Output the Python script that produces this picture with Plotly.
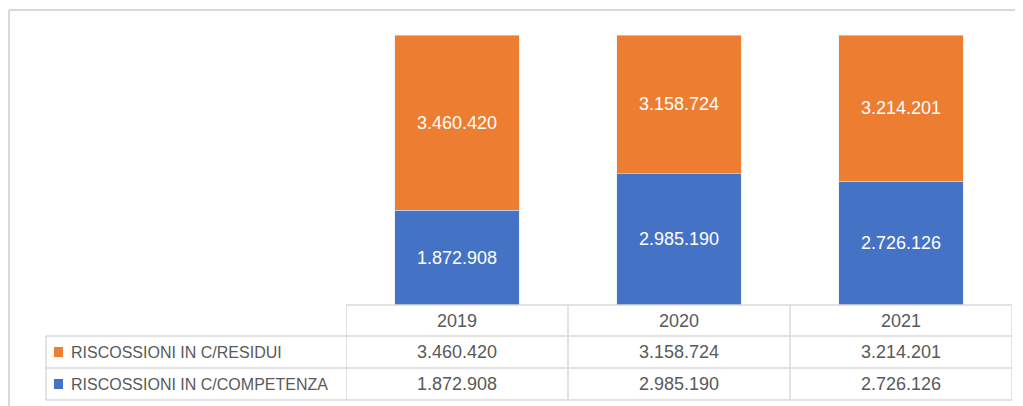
import plotly.graph_objects as go

# ---- data ----
years = ["2019", "2020", "2021"]
residui = [3460420, 3158724, 3214201]
competenza = [1872908, 2985190, 2726126]
series_names = ["RISCOSSIONI IN C/RESIDUI", "RISCOSSIONI IN C/COMPETENZA"]

ORANGE = "#ED7D31"
BLUE = "#4472C4"
GRID = "#D9D9D9"
TXT = "#595959"
FONT = "Liberation Sans"

OFF = 8  # page body margin
W, H = 1023 - OFF, 406 - OFF


def fmt(v):
    return f"{v:,}".replace(",", ".")


def py(p):
    """reference pixel y (from top of window) -> paper y"""
    return 1 - (p - OFF) / H


def px(p):
    return (p - OFF) / W


fig = go.Figure()
fig.add_trace(go.Bar(
    x=years, y=competenza, name=series_names[1], marker_color=BLUE,
    text=[fmt(v) for v in competenza], textposition="inside",
    insidetextanchor="middle", textangle=0,
    textfont=dict(color="white", size=18, family=FONT),
    hoverinfo="skip",
))
fig.add_trace(go.Bar(
    x=years, y=residui, name=series_names[0], marker_color=ORANGE,
    text=[fmt(v) for v in residui], textposition="inside",
    insidetextanchor="middle", textangle=0,
    textfont=dict(color="white", size=18, family=FONT),
    hoverinfo="skip",
))

top_px, bot_px = 35, 305
row_px = [305, 336, 368, 400]
left_tab = 46
right_tab = 1012

shapes = []
line = dict(color=GRID, width=1.5)
# outer chart border (top & left)
shapes.append(dict(type="line", xref="paper", yref="paper", x0=px(9), x1=1, y0=py(10), y1=py(10), line=dict(color=GRID, width=2)))
shapes.append(dict(type="line", xref="paper", yref="paper", x0=px(9), x1=px(9), y0=py(10), y1=0, line=dict(color=GRID, width=2)))
# table horizontal lines
n = len(years)
shapes.append(dict(type="line", xref="x", yref="paper", x0=-0.5, x1=n - 0.5, y0=py(row_px[0]), y1=py(row_px[0]), line=line))
for r in row_px[1:]:
    shapes.append(dict(type="line", xref="paper", yref="paper", x0=px(left_tab), x1=px(right_tab), y0=py(r), y1=py(r), line=line))
# table vertical lines
for i in range(n + 1):
    shapes.append(dict(type="line", xref="x", yref="paper", x0=i - 0.5, x1=i - 0.5, y0=py(row_px[0]), y1=py(row_px[-1]), line=line))
shapes.append(dict(type="line", xref="paper", yref="paper", x0=px(left_tab), x1=px(left_tab), y0=py(row_px[1]), y1=py(row_px[-1]), line=line))

annotations = []
# header
for i, yr in enumerate(years):
    annotations.append(dict(x=i, xref="x", y=py((row_px[0] + row_px[1]) / 2), yref="paper",
                            xanchor="center", yanchor="middle",
                            text=yr, showarrow=False, font=dict(size=18, color=TXT, family=FONT)))
rows = [(series_names[0], residui, ORANGE), (series_names[1], competenza, BLUE)]
for k, (name, vals, col) in enumerate(rows):
    yc = (row_px[k + 1] + row_px[k + 2]) / 2
    for i in range(n):
        annotations.append(dict(x=i, xref="x", y=py(yc), yref="paper", text=fmt(vals[i]),
                                xanchor="center", yanchor="middle",
                                showarrow=False, font=dict(size=18, color=TXT, family=FONT)))
    annotations.append(dict(x=px(69), xref="paper", y=py(yc), yref="paper", text=name,
                            xanchor="left", yanchor="middle",
                            showarrow=False, font=dict(size=16, color=TXT, family=FONT)))
    shapes.append(dict(type="rect", xref="paper", yref="paper", x0=px(54), x1=px(63),
                       y0=py(yc + 5), y1=py(yc - 5), line=dict(width=0), fillcolor=col))

fig.update_layout(
    width=W, height=H,
    margin=dict(l=0, r=0, t=0, b=0),
    paper_bgcolor="white", plot_bgcolor="white",
    barmode="stack", barnorm="percent", bargap=0.44,
    showlegend=False,
    xaxis=dict(domain=[px(346), px(right_tab)], range=[-0.5, n - 0.5], showticklabels=False,
               showgrid=False, zeroline=False, showline=False, type="category"),
    yaxis=dict(domain=[py(bot_px), py(top_px)], range=[0, 100], visible=False),
    shapes=shapes, annotations=annotations,
)

fig.write_html("out.html")
